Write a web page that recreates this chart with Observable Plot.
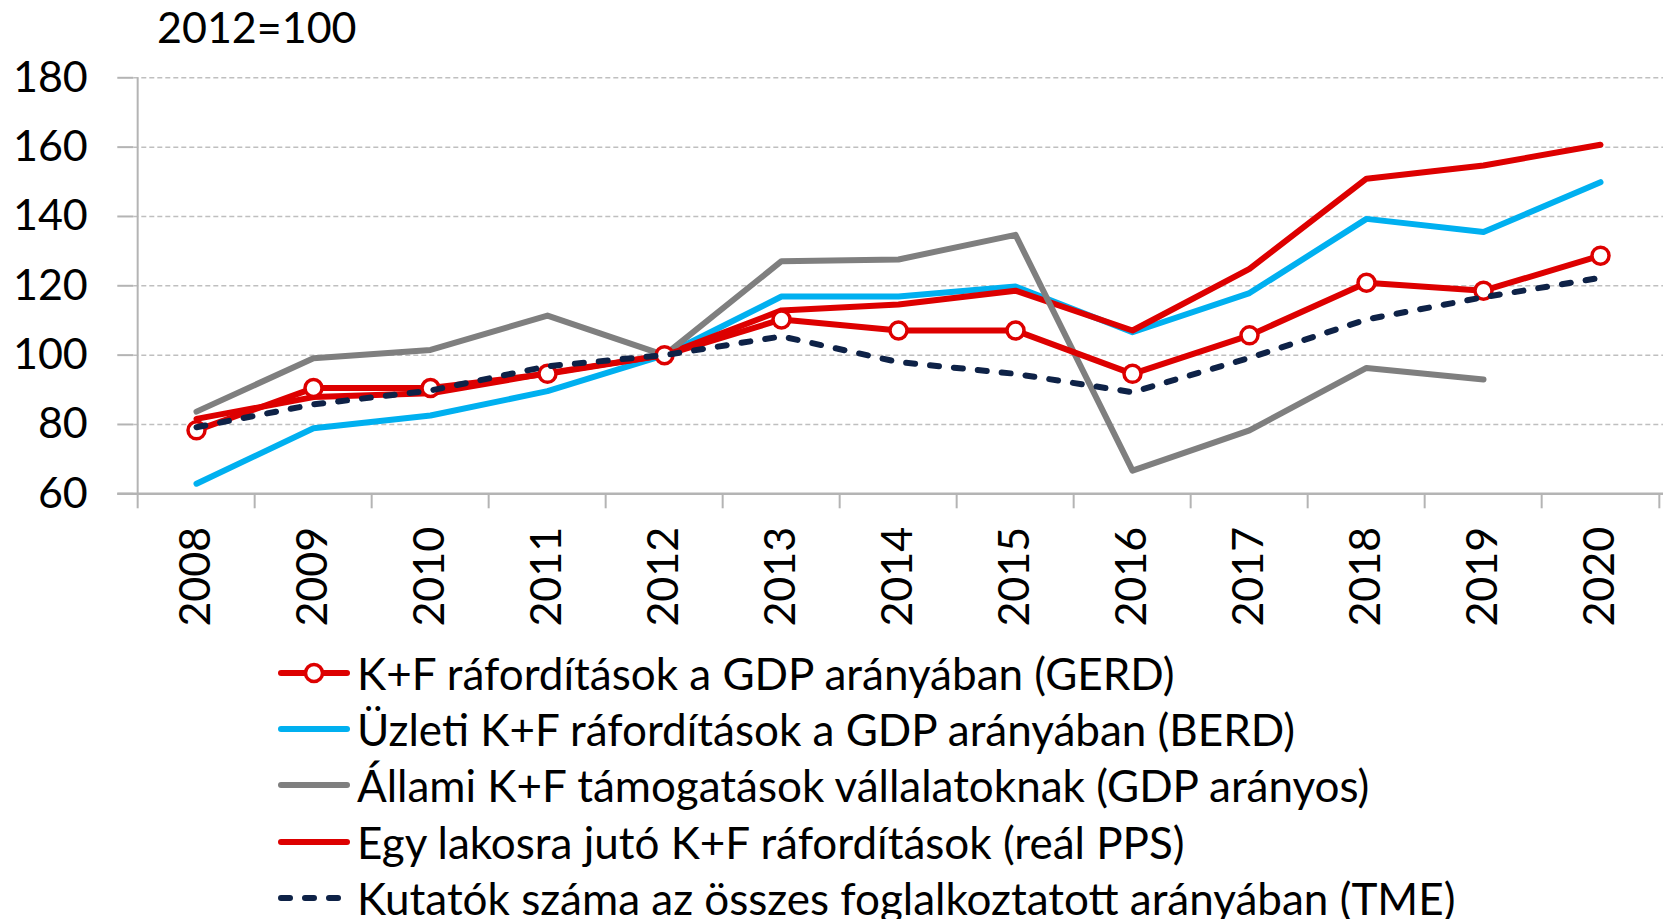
<!DOCTYPE html>
<html><head><meta charset="utf-8">
<script src="https://cdn.jsdelivr.net/npm/d3@7"></script>
<script src="https://cdn.jsdelivr.net/npm/@observablehq/plot@0.6"></script>
<style>
html,body{margin:0;padding:0;background:#fff;overflow:hidden;}
#wrap{position:relative;width:1663px;height:919px;font-family:Lato,sans-serif;color:#000;}
#chart{position:absolute;left:0;top:0;}
#title{position:absolute;left:157px;top:5px;font-size:43px;line-height:43px;white-space:nowrap;}
#legend{position:absolute;left:278px;top:645px;}
.row{height:56.2px;line-height:56.2px;display:flex;align-items:center;font-size:44px;white-space:nowrap;}
.row svg{display:block;margin-right:7px;flex:none;}
</style></head>
<body><div id="wrap"><div id="chart"></div><div id="title">2012=100</div><div id="legend"></div></div>
<script>
const years = ["2008","2009","2010","2011","2012","2013","2014","2015","2016","2017","2018","2019","2020"];
const gerd    = [78.3, 90.5, 90.5, 94.6, 100, 110.3, 107.1, 107.1, 94.6, 105.7, 120.9, 118.6, 128.7];
const berd    = [62.9, 78.9, 82.6, 89.6, 100, 116.9, 116.9, 119.8, 106.6, 117.9, 139.3, 135.5, 149.9];
const allami  = [83.7, 99.1, 101.5, 111.4, 100, 127.1, 127.6, 134.7, 66.7, 78.3, 96.3, 93.0, null];
const lakos   = [81.6, 87.9, 89.0, 94.8, 100, 112.9, 114.6, 118.6, 107.1, 124.9, 150.9, 154.7, 160.7];
const kutatok = [79.2, 85.8, 89.8, 96.8, 100, 105.4, 98.0, 94.6, 89.3, 99.2, 110.3, 116.7, 122.3];
const yTicks = [60, 80, 100, 120, 140, 160, 180];
const seriesNames = [
  "K+F ráfordítások a GDP arányában (GERD)",
  "Üzleti K+F ráfordítások a GDP arányában (BERD)",
  "Állami K+F támogatások vállalatoknak (GDP arányos)",
  "Egy lakosra jutó K+F ráfordítások (reál PPS)",
  "Kutatók száma az összes foglalkoztatott arányában (TME)"
];

const RED = "#dd0000", CYAN = "#00b0f0", GRAY = "#7f7f7f", NAVY = "#0e2247", AXIS = "#b4b4b4";
const W = 1663, H = 640;
const mL = 133.3, mR = 0, mT = 77.3, mB = H - 493.3;
const step = (W - mL - mR) / years.length;

const rows = years.map((y, i) => ({year: y, gerd: gerd[i], berd: berd[i], allami: allami[i], lakos: lakos[i], kutatok: kutatok[i]}));

const chart = Plot.plot({
  width: W, height: H,
  marginLeft: mL, marginRight: mR, marginTop: mT, marginBottom: mB,
  style: {fontFamily: "Lato, sans-serif", fontSize: "43px", color: "#000", background: "#fff", overflow: "visible"},
  x: {type: "point", domain: years, padding: 0.5, align: 0.5, axis: null, label: null},
  y: {domain: [60, 180], axis: null, label: null},
  marks: [
    Plot.ruleY(yTicks.filter(t => t > 60), {stroke: "#bfbfbf", strokeWidth: 1.5, strokeDasharray: "5,3"}),
    Plot.ruleY([60], {stroke: AXIS, strokeWidth: 2.5, insetLeft: -16}),
    Plot.ruleX([years[0]], {dx: -step / 2, stroke: AXIS, strokeWidth: 2}),
    Plot.ruleX(years, {dx: -step / 2, y1: 60, y2: 60, insetBottom: -15, stroke: AXIS, strokeWidth: 2}),
    Plot.ruleX([years[years.length - 1]], {dx: step / 2, y1: 60, y2: 60, insetBottom: -15, stroke: AXIS, strokeWidth: 2}),
    Plot.axisY({ticks: yTicks, tickSize: 16, tickPadding: 30, stroke: AXIS, strokeWidth: 2, fill: "#000", fontSize: 43, tickFormat: d => String(d), label: null}),
    Plot.axisX({tickRotate: -90, tickSize: 0, tickPadding: 33, fill: "#000", fontSize: 43, label: null}),
    Plot.line(rows, {x: "year", y: "berd", stroke: CYAN, strokeWidth: 6}),
    Plot.line(rows, {x: "year", y: "lakos", stroke: RED, strokeWidth: 6}),
    Plot.line(rows, {x: "year", y: "allami", stroke: GRAY, strokeWidth: 6}),
    Plot.line(rows, {x: "year", y: "gerd", stroke: RED, strokeWidth: 6}),
    Plot.dot(rows, {x: "year", y: "gerd", r: 8.5, fill: "#fff", stroke: RED, strokeWidth: 3.5}),
    Plot.line(rows, {x: "year", y: "kutatok", stroke: NAVY, strokeWidth: 6, strokeDasharray: "9,15", strokeLinecap: "round"})
  ]
});
document.getElementById("chart").appendChild(chart);

const swatches = [
  {color: RED, dash: null, dot: true},
  {color: CYAN, dash: null, dot: false},
  {color: GRAY, dash: null, dot: false},
  {color: RED, dash: null, dot: false},
  {color: NAVY, dash: "9,15", dot: false}
];
const legend = d3.select("#legend");
seriesNames.forEach((name, i) => {
  const s = swatches[i];
  const row = legend.append("div").attr("class", "row");
  const svg = row.append("svg").attr("width", 72).attr("height", 56);
  svg.append("line").attr("x1", 3).attr("x2", 69).attr("y1", 28).attr("y2", 28)
    .attr("stroke", s.color).attr("stroke-width", 6).attr("stroke-linecap", "round")
    .attr("stroke-dasharray", s.dash);
  if (s.dot) svg.append("circle").attr("cx", 36).attr("cy", 28).attr("r", 8.5)
    .attr("fill", "#fff").attr("stroke", s.color).attr("stroke-width", 3.5);
  row.append("span").text(name);
});
</script>
</body></html>
